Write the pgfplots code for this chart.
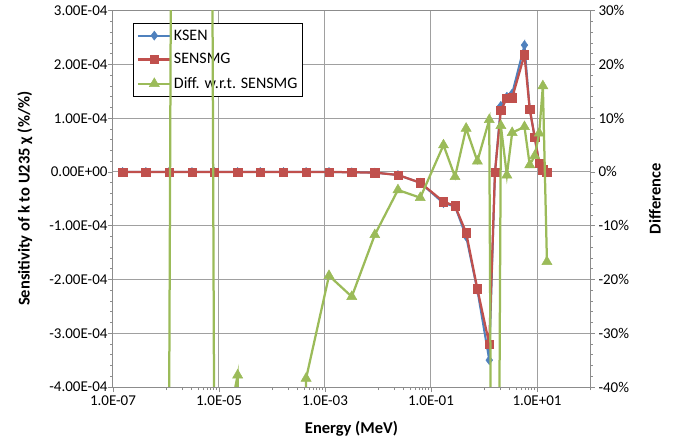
\documentclass[border=0pt]{standalone}
\usepackage{fontspec}
\setmainfont{Carlito}
\usepackage{pgfplots}
\pgfplotsset{compat=1.18}
\usepackage{pgfplotstable}

\definecolor{ksen}{HTML}{4F81BD}
\definecolor{sens}{HTML}{C0504D}
\definecolor{diffc}{HTML}{9BBB59}
\definecolor{gridc}{HTML}{A0A0A0}
\definecolor{axc}{HTML}{8C8C8C}

\pgfplotsset{
  legend image code/.code={\draw[mark repeat=2,mark phase=2,#1] plot coordinates {(0bp,0bp) (16.5bp,0bp) (33bp,0bp)};},
}

\pgfplotstableread{
E        ksen       sensmg
1.52e-7  0          0
4.17e-7  0          0
1.14e-6  0          0
3.09e-6  0          0
8.2e-6   0          0
2.25e-5  0          0
6.0e-5   0          0
1.65e-4  0          0
4.4e-4   0          0
1.19e-3  0          0
3.2e-3   -0.5e-6    -0.5e-6
8.7e-3   -1.2e-6    -1.2e-6
2.38e-2  -5.6e-6    -5.6e-6
6.27e-2  -2.0e-5    -2.0e-5
0.172    -5.8e-5    -5.52e-5
0.284    -6.4e-5    -6.32e-5
0.46     -1.20e-4   -1.129e-4
0.75     -2.20e-4   -2.176e-4
1.256    -3.50e-4   -3.20e-4
1.61     -1.0e-6    -1.0e-6
2.08     1.23e-4    1.15e-4
2.7      1.40e-4    1.37e-4
3.4      1.46e-4    1.38e-4
5.8      2.36e-4    2.18e-4
7.29     1.17e-4    1.17e-4
9.06     6.45e-5    6.45e-5
11.0     1.6e-5     1.6e-5
12.9     4.0e-6     4.0e-6
15.4     0          0
}\senstable

\pgfplotstableread{
E        diff
1.52e-7  -100
4.17e-7  -100
1.14e-6  -50
3.09e-6  1000
8.2e-6   -60
2.25e-5  -37.8
6.0e-5   -500
1.65e-4  -500
4.4e-4   -38.4
1.19e-3  -19.3
3.2e-3   -23.2
8.7e-3   -11.7
2.38e-2  -3.35
6.27e-2  -4.8
0.172    5.0
0.284    -0.9
0.46     8.1
0.75     2.0
1.256    9.7
1.61     -200
2.08     8.6
2.7      -0.6
3.4      7.3
5.8      8.4
7.29     1.3
9.06     3.0
11.0     7.2
12.9     16.0
15.4     -16.7
}\difftable

\begin{document}
\begin{tikzpicture}
\useasboundingbox (-113bp,-53bp) rectangle (562bp,387bp);
\begin{semilogxaxis}[
  at={(0,0)}, anchor=south west, scale only axis,
  width=477bp, height=376.3bp,
  xmin=1e-7, xmax=1e2,
  clip marker paths=true,
  tick align=outside, major tick length=5bp, minor tick length=3bp,
  every tick/.style={axc, line width=0.75bp},
  axis line style={axc, line width=1bp},
  tick label style={font=\fontsize{15bp}{18bp}\selectfont, text=black},
  yticklabel style={xshift=3bp},
  label style={font=\bfseries\fontsize{16.5bp}{19bp}\selectfont},
  ymin=-4e-4, ymax=3e-4,
  xtick={1e-7,1e-5,1e-3,1e-1,1e1},
  xticklabels={1.0E-07,1.0E-05,1.0E-03,1.0E-01,1.0E+01},
  minor xtick={1e-6,2e-6,3e-6,4e-6,5e-6,6e-6,7e-6,8e-6,9e-6,
               1e-4,2e-4,3e-4,4e-4,5e-4,6e-4,7e-4,8e-4,9e-4,
               1e-2,2e-2,3e-2,4e-2,5e-2,6e-2,7e-2,8e-2,9e-2,
               1,2,3,4,5,6,7,8,9,100},
  ytick={-4e-4,-3e-4,-2e-4,-1e-4,0,1e-4,2e-4,3e-4},
  yticklabels={-4.00E-04,-3.00E-04,-2.00E-04,-1.00E-04,0.00E+00,1.00E-04,2.00E-04,3.00E-04},
  minor y tick num=4,
  scaled y ticks=false,
  xtick pos=left, ytick pos=left,
  xmajorgrids, ymajorgrids,
  major grid style={gridc, line width=1bp},
  xlabel={Energy (MeV)},
  xlabel style={at={(axis description cs:0.5,-0.1116)}, anchor=center},
  ylabel={Sensitivity of k to U235 χ (\%/\%)},
  ylabel style={at={(axis description cs:-0.1845,0.5)}, anchor=center},
  legend style={at={(axis description cs:0.0426,0.9665)}, anchor=north west,
    draw=black, line width=0.75bp, fill=white,
    font=\fontsize{16bp}{19bp}\selectfont,
    inner xsep=3bp, inner ysep=4bp, row sep=8bp},
  legend cell align=left,
]
\addplot[ksen, line width=2bp, mark=diamond*, mark size=4.5bp, mark options={solid, line width=0.5bp, fill=ksen}] table[x=E,y=ksen]{\senstable};
\addlegendentry{KSEN}
\addplot[sens, line width=2.25bp, mark=square*, mark size=4.2bp, mark options={solid, line width=0.5bp, fill=sens}] table[x=E,y=sensmg]{\senstable};
\addlegendentry{SENSMG}
\addlegendimage{diffc, line width=2.25bp, mark=triangle*, mark size=5.8bp, mark options={solid, line width=0.5bp, fill=diffc}}
\addlegendentry{Diff. w.r.t. SENSMG}
\end{semilogxaxis}
\begin{semilogxaxis}[
  at={(0,0)}, anchor=south west, scale only axis,
  width=477bp, height=376.3bp,
  xmin=1e-7, xmax=1e2,
  clip marker paths=true,
  tick align=outside, major tick length=5bp, minor tick length=3bp,
  every tick/.style={axc, line width=0.75bp},
  axis line style={axc, line width=1bp},
  tick label style={font=\fontsize{15bp}{18bp}\selectfont, text=black},
  label style={font=\bfseries\fontsize{16.5bp}{19bp}\selectfont},
  axis y line*=right, axis x line=none,
  ymin=-40, ymax=30,
  ytick={-40,-30,-20,-10,0,10,20,30},
  yticklabels={-40\%,-30\%,-20\%,-10\%,0\%,10\%,20\%,30\%},
  minor y tick num=4,
  ylabel={Difference},
  ylabel style={at={(axis description cs:1.136,0.5)}, anchor=center},
]
\addplot[diffc, line width=2.25bp, mark=triangle*, mark size=5.8bp, mark options={solid, line width=0.5bp, fill=diffc}] table[x=E,y=diff]{\difftable};
\end{semilogxaxis}
\end{tikzpicture}
\end{document}
